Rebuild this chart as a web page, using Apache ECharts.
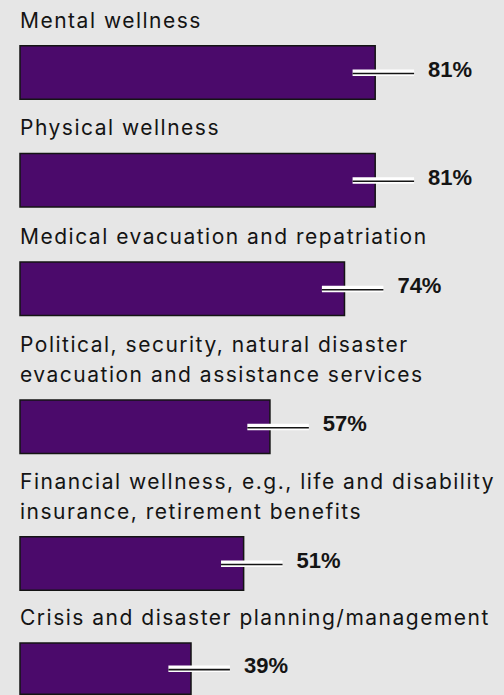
<!DOCTYPE html>
<html>
<head>
<meta charset="utf-8">
<script src="https://cdn.jsdelivr.net/npm/echarts@6/dist/echarts.min.js"></script>
<style>
  html, body { margin: 0; padding: 0; background: #e6e6e6; }
  #chart { width: 504px; height: 695px; }
  #chart text { letter-spacing: 1.5px; }
  #chart text[style*="bold"] { letter-spacing: 0; }
</style>
</head>
<body>
<div id="chart"></div>
<script>
// Share of respondents offering each benefit
const categories = [
  'Mental wellness',
  'Physical wellness',
  'Medical evacuation and repatriation',
  'Political, security, natural disaster\nevacuation and assistance services',
  'Financial wellness, e.g., life and disability\ninsurance, retirement benefits',
  'Crisis and disaster planning/management'
];
const shares = [81, 81, 74, 57, 51, 39];

// Layout: each bar sits in its own grid so two-line captions get extra room
const barTops = [45, 152.7, 261.3, 399.3, 536, 642.3];
const barHeight = 55;

const PURPLE = '#4b0a6b';
const INK = '#141414';

function renderBar(params, api) {
  const v = api.value(0);
  const start = api.coord([0, 0]);
  const end = api.coord([v, 0]);
  const h = api.size([0, 1])[1];
  const yc = end[1];
  const lx0 = end[0] - 22.6;
  const lx1 = lx0 + 61.5;
  return {
    type: 'group',
    children: [
      {
        type: 'rect',
        shape: { x: start[0], y: yc - h / 2 + 0.75, width: end[0] - start[0], height: h - 1.5 },
        style: { fill: PURPLE, stroke: INK, lineWidth: 1.5 }
      },
      {
        type: 'line',
        shape: { x1: lx0, y1: yc + 0.2, x2: lx1, y2: yc + 0.2 },
        style: { stroke: '#ffffff', lineWidth: 6.5 }
      },
      {
        type: 'line',
        shape: { x1: lx0, y1: yc + 1, x2: lx1, y2: yc + 1 },
        style: { stroke: INK, lineWidth: 1.6 }
      },
      {
        type: 'text',
        x: lx1 + 14,
        y: yc - 3,
        style: {
          text: v + '%',
          fontFamily: '"Liberation Sans", Arial, sans-serif',
          fontWeight: 'bold',
          fontSize: 22,
          fill: INK,
          align: 'left',
          verticalAlign: 'middle'
        }
      }
    ]
  };
}

const grid = [], xAxis = [], yAxis = [], series = [];
categories.forEach(function (name, i) {
  grid.push({ left: 20, width: 438.5, top: barTops[i], height: barHeight });
  xAxis.push({ gridIndex: i, type: 'value', min: 0, max: 100, show: false });
  yAxis.push({
    gridIndex: i,
    type: 'category',
    data: [name],
    offset: 3,
    axisLine: { show: false },
    axisTick: { show: false },
    axisLabel: { show: false },
    splitLine: { show: false },
    name: name,
    nameLocation: 'end',
    nameGap: 10,
    nameTextStyle: {
      align: 'left',
      verticalAlign: 'bottom',
      fontFamily: 'Inter, sans-serif',
      fontSize: 21,
      lineHeight: 30,
      color: INK
    }
  });
  series.push({
    type: 'custom',
    xAxisIndex: i,
    yAxisIndex: i,
    renderItem: renderBar,
    encode: { x: 0, y: 1 },
    data: [[shares[i], 0]]
  });
});

const chart = echarts.init(document.getElementById('chart'), null, { renderer: 'svg' });
chart.setOption({
  backgroundColor: '#e6e6e6',
  animation: false,
  grid: grid,
  xAxis: xAxis,
  yAxis: yAxis,
  series: series
});
</script>
</body>
</html>
